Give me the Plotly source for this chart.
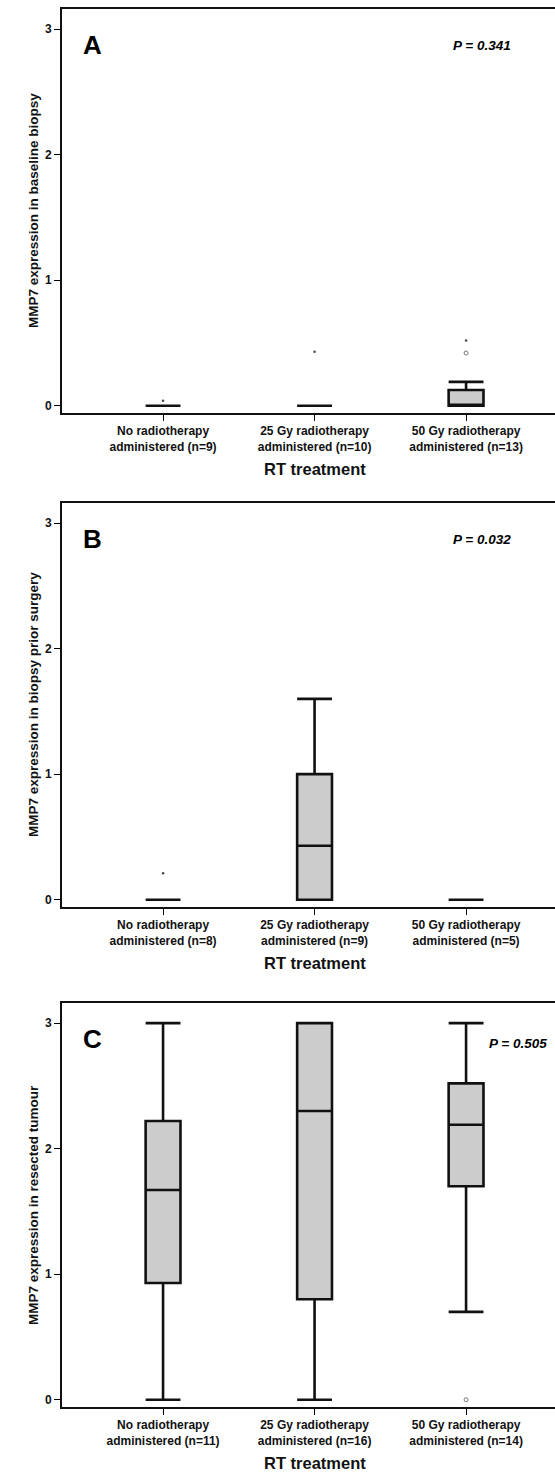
import plotly.graph_objects as go

# ---------------- data ----------------
categories = ["No radiotherapy", "25 Gy radiotherapy", "50 Gy radiotherapy"]
cat_pos = [0, 1, 2]

# Panel A - baseline biopsy
a_n = [9, 10, 13]
a_q1 = [0.0, 0.0, 0.0]
a_med = [0.0, 0.0, 0.0]
a_q3 = [0.0, 0.0, 0.125]
a_low = [0.0, 0.0, 0.0]
a_high = [0.0, 0.0, 0.19]
a_out_x = [2]
a_out_y = [0.42]
a_ext_x = [0, 1, 2]
a_ext_y = [0.04, 0.43, 0.52]

# Panel B - biopsy prior surgery
b_n = [8, 9, 5]
b_q1 = [0.0, 0.0, 0.0]
b_med = [0.0, 0.43, 0.0]
b_q3 = [0.0, 1.0, 0.0]
b_low = [0.0, 0.0, 0.0]
b_high = [0.0, 1.6, 0.0]
b_out_x = []
b_out_y = []
b_ext_x = [0]
b_ext_y = [0.21]

# Panel C - resected tumour
c_n = [11, 16, 14]
c_q1 = [0.93, 0.80, 1.70]
c_med = [1.67, 2.30, 2.19]
c_q3 = [2.22, 3.0, 2.52]
c_low = [0.0, 0.0, 0.70]
c_high = [3.0, 3.0, 3.0]
c_out_x = [2]
c_out_y = [0.0]
c_ext_x = []
c_ext_y = []

ytick_vals = [0, 1, 2, 3]
panel_letters = ["A", "B", "C"]
p_values = ["P = 0.341", "P = 0.032", "P = 0.505"]
y_titles = ["MMP7 expression in baseline biopsy",
            "MMP7 expression in biopsy prior surgery",
            "MMP7 expression in resected tumour"]
x_title = "RT treatment"

panels = [
    (a_n, a_q1, a_med, a_q3, a_low, a_high, a_out_x, a_out_y, a_ext_x, a_ext_y),
    (b_n, b_q1, b_med, b_q3, b_low, b_high, b_out_x, b_out_y, b_ext_x, b_ext_y),
    (c_n, c_q1, c_med, c_q3, c_low, c_high, c_out_x, c_out_y, c_ext_x, c_ext_y),
]

# ---------------- layout geometry ----------------
W, H = 555, 1472
plot_px = [(9, 413), (503, 907), (1003, 1407)]  # top, bottom in px
x_left_px = 62
FONT = "Liberation Sans, Arial, sans-serif"

fig = go.Figure()
layout = dict(
    width=W, height=H,
    margin=dict(l=0, r=0, t=0, b=0),
    paper_bgcolor="white", plot_bgcolor="white",
    showlegend=False,
    font=dict(family=FONT, color="black"),
)
annotations = []

for i, (n, q1, med, q3, lo, hi, ox, oy, ex, ey) in enumerate(panels):
    k = "" if i == 0 else str(i + 1)
    xa, ya = "x" + k, "y" + k
    top, bot = plot_px[i]
    fig.add_trace(go.Box(
        x=cat_pos, q1=q1, median=med, q3=q3, lowerfence=lo, upperfence=hi,
        xaxis=xa, yaxis=ya, width=0.23, whiskerwidth=1,
        fillcolor="#cccccc", line=dict(color="#111111", width=2.6),
        boxpoints=False, hoverinfo="skip",
    ))
    if ox:
        fig.add_trace(go.Scatter(
            x=ox, y=oy, mode="markers", xaxis=xa, yaxis=ya,
            marker=dict(symbol="circle-open", size=4, color="#777777",
                        line=dict(width=1, color="#777777")),
        ))
    if ex:
        fig.add_trace(go.Scatter(
            x=ex, y=ey, mode="markers", xaxis=xa, yaxis=ya,
            marker=dict(symbol="circle", size=2.5, color="#444444"),
        ))
    ticktext = [f"{c}<br>administered (n={m})" for c, m in zip(categories, n)]
    layout["xaxis" + k] = dict(
        domain=[x_left_px / W, 1.0], anchor=ya,
        range=[-0.667, 2.587], tickvals=cat_pos, ticktext=ticktext,
        ticks="outside", ticklen=6, tickwidth=1, tickcolor="black",
        showline=True, linewidth=2, linecolor="#111111", mirror=True,
        showgrid=False, zeroline=False, automargin=False,
        tickfont=dict(family=FONT, size=12, color="#111111", weight="bold"),
    )
    layout["yaxis" + k] = dict(
        domain=[1 - bot / H, 1 - top / H], anchor=xa,
        range=[-0.058, 3.16], tickvals=ytick_vals,
        ticks="outside", ticklen=6, tickwidth=1, tickcolor="black",
        showline=True, linewidth=2, linecolor="#111111", mirror=False,
        showgrid=False, zeroline=False, automargin=False,
        tickfont=dict(family=FONT, size=12, color="#111111", weight="bold"),
    )
    # panel letter
    annotations.append(dict(
        text=panel_letters[i], xref=xa, yref=ya, x=-0.54, y=2.87,
        xanchor="left", yanchor="middle", showarrow=False,
        font=dict(family=FONT, size=26, color="black", weight="bold"),
    ))
    # p value
    if i < 2:
        pa = dict(x=2.31, y=2.87, xanchor="right")
    else:
        pa = dict(x=2.14, y=2.84, xanchor="left")
    annotations.append(dict(
        text=f"<b><i>{p_values[i]}</i></b>", xref=xa, yref=ya,
        yanchor="middle", showarrow=False,
        font=dict(family=FONT, size=13.5, color="black"), **pa,
    ))
    # y title
    annotations.append(dict(
        text=y_titles[i], xref="paper", yref=ya + " domain",
        x=33 / W, y=0.5, xanchor="center", yanchor="middle",
        textangle=-90, showarrow=False,
        font=dict(family=FONT, size=13.5, color="#111111", weight="bold"),
    ))
    # x title
    annotations.append(dict(
        text=x_title, xref=xa, yref="paper",
        x=1, y=1 - (bot + 56) / H, xanchor="center", yanchor="middle",
        showarrow=False,
        font=dict(family=FONT, size=16.5, color="#111111", weight="bold"),
    ))

layout["annotations"] = annotations
fig.update_layout(**layout)
fig.write_html("out.html")
